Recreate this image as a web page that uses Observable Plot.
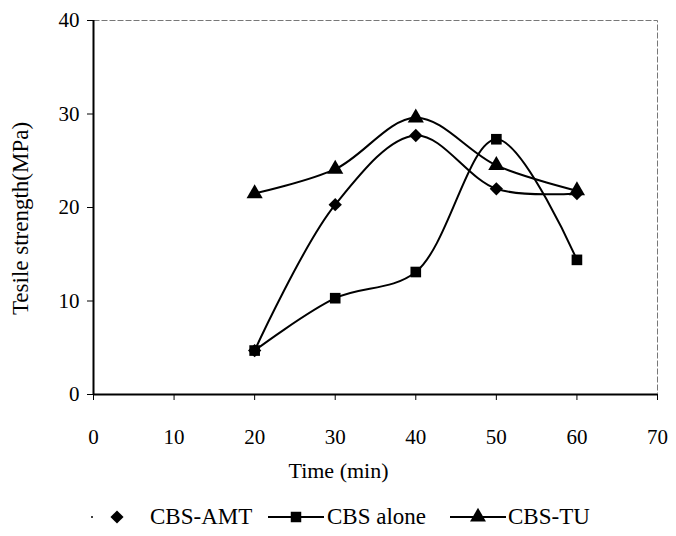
<!DOCTYPE html>
<html><head><meta charset="utf-8">
<script src="https://cdn.jsdelivr.net/npm/d3@7"></script>
<script src="https://cdn.jsdelivr.net/npm/@observablehq/plot@0.6"></script>
<style>
body{margin:0;background:#fff;font-family:"Liberation Serif","DejaVu Serif",serif;}
#chart svg{display:block;}
#legend{position:relative;width:676px;height:46px;font-size:23px;color:#000;}
#legend .it{position:absolute;top:4px;height:46px;display:flex;align-items:center;white-space:nowrap;}
</style></head><body>
<div id="chart"></div>
<div id="legend"></div>
<script>
const times = [20, 30, 40, 50, 60];
const cbsAmt = [4.7, 20.3, 27.7, 22.0, 21.5];
const cbsAlone = [4.7, 10.3, 13.1, 27.3, 14.4];
const cbsTu = [21.5, 24.1, 29.6, 24.5, 21.8];
const seriesNames = ["CBS-AMT", "CBS alone", "CBS-TU"];
const seriesSymbols = ["diamond2", "square", "triangle"];
const xTicks = [0, 10, 20, 30, 40, 50, 60, 70];
const yTicks = [0, 10, 20, 30, 40];
const xTitle = "Time (min)";
const yTitle = "Tesile strength(MPa)";

const data = [];
[cbsAmt, cbsAlone, cbsTu].forEach((vals, i) => times.forEach((t, j) => data.push({series: seriesNames[i], time: t, value: vals[j]})));

const font = `"Liberation Serif","DejaVu Serif",serif`;
const chart = Plot.plot({
  width: 676, height: 490,
  marginLeft: 93, marginRight: 19, marginTop: 20, marginBottom: 96,
  style: {fontFamily: font, fontSize: "21px", color: "#000", background: "#fff"},
  x: {domain: [0, 70], ticks: xTicks, label: null},
  y: {domain: [0, 40], ticks: yTicks, label: null},
  symbol: {domain: seriesNames, range: seriesSymbols},
  marks: [
    Plot.frame({stroke: "#777", strokeWidth: 1, strokeDasharray: "6,2"}),
    Plot.ruleX([0], {stroke: "#000", strokeWidth: 2}),
    Plot.ruleY([0], {stroke: "#000", strokeWidth: 2}),
    Plot.axisX({ticks: xTicks, tickSize: 6, tickPadding: 29, fontSize: 21, tickFormat: d => d, label: null}),
    Plot.axisY({ticks: yTicks, tickSize: 6, tickPadding: 8, fontSize: 21, tickFormat: d => d, label: null}),
    Plot.text([xTitle], {frameAnchor: "bottom", lineAnchor: "middle", textAnchor: "middle", dx: -37, dy: 76, fontSize: 22, fill: "#000", text: d => d}),
    Plot.text([yTitle], {frameAnchor: "left", lineAnchor: "middle", textAnchor: "middle", dx: -73, dy: 11, rotate: -90, fontSize: 23, fill: "#000", text: d => d}),
    Plot.line(data, {x: "time", y: "value", z: "series", stroke: "#000", strokeWidth: 2, curve: "catmull-rom"}),
    Plot.dot(data, {x: "time", y: "value", symbol: "series", fill: "#000", r: 6})
  ]
});
document.getElementById("chart").appendChild(chart);

// Legend
const leg = document.getElementById("legend");
function add(left, html) {
  const d = document.createElement("div");
  d.className = "it";
  d.style.left = left + "px";
  d.innerHTML = html;
  leg.appendChild(d);
}
const sym = (s, line, w) => {
  const p = d3.symbol(s, 110)();
  return `<svg width="${w}" height="20">${line ? `<line x1="0" x2="${w}" y1="10" y2="10" stroke="#000" stroke-width="2"/>` : ""}<path d="${p}" transform="translate(${w / 2},10)" fill="#000"/></svg>`;
};
add(90, `<svg width="4" height="20"><circle cx="2" cy="10" r="1" fill="#000"/></svg>`);
add(108, sym(d3.symbolDiamond2, false, 18));
add(150, seriesNames[0]);
add(268, sym(d3.symbolSquare, true, 56));
add(327, seriesNames[1]);
add(450, sym(d3.symbolTriangle, true, 56));
add(508, seriesNames[2]);
</script>
</body></html>
